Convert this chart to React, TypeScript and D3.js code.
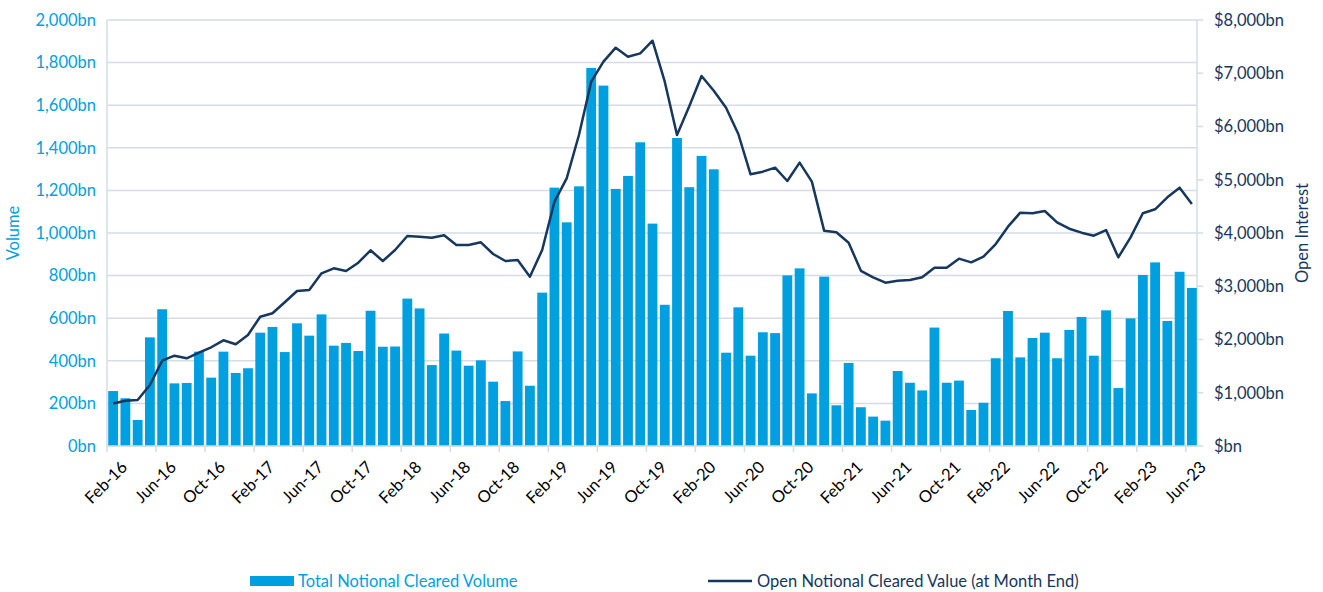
import React from "react";
import * as d3 from "d3";

const MONTHS_SHORT = ["Jan","Feb","Mar","Apr","May","Jun","Jul","Aug","Sep","Oct","Nov","Dec"];
const START_YEAR = 2016;
const START_MONTH = 1; // Feb
const N_MONTHS = 89;
const months: string[] = Array.from({ length: N_MONTHS }, (_, i) => {
  const m = START_MONTH + i;
  const y = START_YEAR + Math.floor(m / 12);
  return `${MONTHS_SHORT[m % 12]}-${String(y % 100).padStart(2, "0")}`;
});

// Total Notional Cleared Volume (bn)
const volume: number[] = [
  258, 224, 122, 510, 642, 294, 296, 443, 321, 443, 343, 365,
  532, 559, 441, 576, 518, 618, 471, 484, 446, 635, 466, 467,
  692, 646, 380, 528, 448, 377, 402, 302, 211, 444, 283, 720,
  1213, 1050, 1219, 1775, 1692, 1207, 1268, 1426, 1044, 663, 1446, 1215,
  1362, 1299, 438, 651, 424, 534, 530, 801, 834, 247, 795, 191,
  390, 182, 138, 119, 352, 297, 261, 556, 297, 307, 169, 203,
  412, 634, 416, 507, 532, 412, 545, 606, 424, 637, 272, 599,
  803, 862, 587, 818, 742,
];

// Open Notional Cleared Value at Month End (bn)
const openInterest: number[] = [
  798, 851, 864, 1146, 1602, 1696, 1647, 1752, 1854, 1985, 1910, 2085,
  2428, 2492, 2699, 2910, 2930, 3243, 3337, 3286, 3443, 3675, 3474, 3681,
  3944, 3931, 3912, 3956, 3775, 3775, 3825, 3606, 3474, 3493, 3180, 3681,
  4588, 5027, 5840, 6842, 7217, 7480, 7311, 7374, 7611, 6842, 5840, 6380,
  6948, 6672, 6353, 5859, 5102, 5152, 5227, 4977, 5321, 4964, 4044, 4013,
  3818, 3290, 3165, 3067, 3105, 3117, 3168, 3349, 3349, 3518, 3449, 3556,
  3793, 4119, 4382, 4369, 4413, 4200, 4081, 4006, 3950, 4056, 3543, 3919,
  4370, 4445, 4670, 4851, 4545,
];

const leftTicks: number[] = [0, 200, 400, 600, 800, 1000, 1200, 1400, 1600, 1800, 2000];
const rightTicks: number[] = [0, 1000, 2000, 3000, 4000, 5000, 6000, 7000, 8000];

const seriesNames = ["Total Notional Cleared Volume", "Open Notional Cleared Value (at Month End)"];
const axisTitles = ["Volume", "Open Interest"];

const BAR_COLOR = "#009FDF";
const LINE_COLOR = "#17375E";
const GRID_COLOR = "#D5DCE6";
const FONT = "Lato, 'Open Sans', sans-serif";
const FS = 16.5;

export default function App() {
  const W = 1323, H = 592;
  const left = 107, right = 1198, top = 20, bottom = 446;
  const p = 0.2;
  const x = d3.scaleBand<string>().domain(months).range([left, right]).paddingInner(p).paddingOuter(p / 2);
  const step = x.step();
  const yL = d3.scaleLinear().domain([0, 2000]).range([bottom, top]);
  const yR = d3.scaleLinear().domain([0, 8000]).range([bottom, top]);
  const fmt = d3.format(",");

  const line = d3.line<number>()
    .x((_, i) => (x(months[i]) as number) + x.bandwidth() / 2)
    .y((d) => yR(d));

  const boundary = (i: number) => left + step * i;

  return (
    <svg width={W} height={H} style={{ position: "absolute", left: 0, top: 0, background: "#fff" }} fontFamily={FONT}>
      {/* gridlines */}
      {leftTicks.map((t) => (
        <line key={"g" + t} x1={left} x2={right - 1} y1={yL(t)} y2={yL(t)} stroke={GRID_COLOR} strokeWidth={1.5} />
      ))}
      {/* axes lines */}
      <line x1={left} x2={left} y1={top} y2={bottom} stroke={GRID_COLOR} strokeWidth={1.5} />
      <line x1={right - 1} x2={right - 1} y1={top} y2={bottom} stroke={GRID_COLOR} strokeWidth={1.5} />
      {rightTicks.map((t) => (
        <line key={"rt" + t} x1={right - 1} x2={right + 5} y1={yR(t)} y2={yR(t)} stroke={GRID_COLOR} strokeWidth={1.5} />
      ))}
      {/* bars */}
      {volume.map((v, i) => (
        <rect key={"b" + i} x={x(months[i])} y={yL(v)} width={x.bandwidth()} height={bottom - yL(v)} fill={BAR_COLOR} />
      ))}
      <line x1={left} x2={right - 1} y1={bottom} y2={bottom} stroke={GRID_COLOR} strokeWidth={1.5} />
      {months.map((m, i) =>
        i % 4 === 0 ? (
          <line key={"xt" + i} x1={boundary(i)} x2={boundary(i)} y1={bottom} y2={bottom + 6} stroke={GRID_COLOR} strokeWidth={1.5} />
        ) : null
      )}
      {/* line */}
      <path d={line(openInterest) || ""} fill="none" stroke={LINE_COLOR} strokeWidth={2.5} strokeLinejoin="round" />
      {/* left tick labels */}
      {leftTicks.map((t) => (
        <text key={"lt" + t} x={96} y={yL(t)} dy="0.35em" textAnchor="end" fontSize={FS} fill={BAR_COLOR}>
          {fmt(t)}bn
        </text>
      ))}
      {/* right tick labels */}
      {rightTicks.map((t) => (
        <text key={"rl" + t} x={1214} y={yR(t)} dy="0.35em" textAnchor="start" fontSize={FS} fill={LINE_COLOR}>
          {t === 0 ? "$bn" : `$${fmt(t)}bn`}
        </text>
      ))}
      {/* x labels */}
      {months.map((m, i) =>
        i % 4 === 0 ? (
          <text key={"xl" + i} transform={`translate(${(x(m) as number) + x.bandwidth() / 2 + 7},${bottom + 14}) rotate(-45)`}
            textAnchor="end" dy="0.7em" fontSize={FS} fill="#000">
            {m}
          </text>
        ) : null
      )}
      {/* axis titles */}
      <text transform={`translate(19,233) rotate(-90)`} textAnchor="middle" fontSize={FS} fill={BAR_COLOR}>{axisTitles[0]}</text>
      <text transform={`translate(1308,233) rotate(-90)`} textAnchor="middle" fontSize={FS} fill={LINE_COLOR}>{axisTitles[1]}</text>
      {/* legend */}
      <rect x={250} y={576} width={44} height={10} fill={BAR_COLOR} />
      <text x={298} y={581} dy="0.35em" fontSize={FS} fill={BAR_COLOR}>{seriesNames[0]}</text>
      <line x1={708} x2={752} y1={581} y2={581} stroke={LINE_COLOR} strokeWidth={2.5} />
      <text x={757} y={581} dy="0.35em" fontSize={FS} fill={LINE_COLOR}>{seriesNames[1]}</text>
    </svg>
  );
}
